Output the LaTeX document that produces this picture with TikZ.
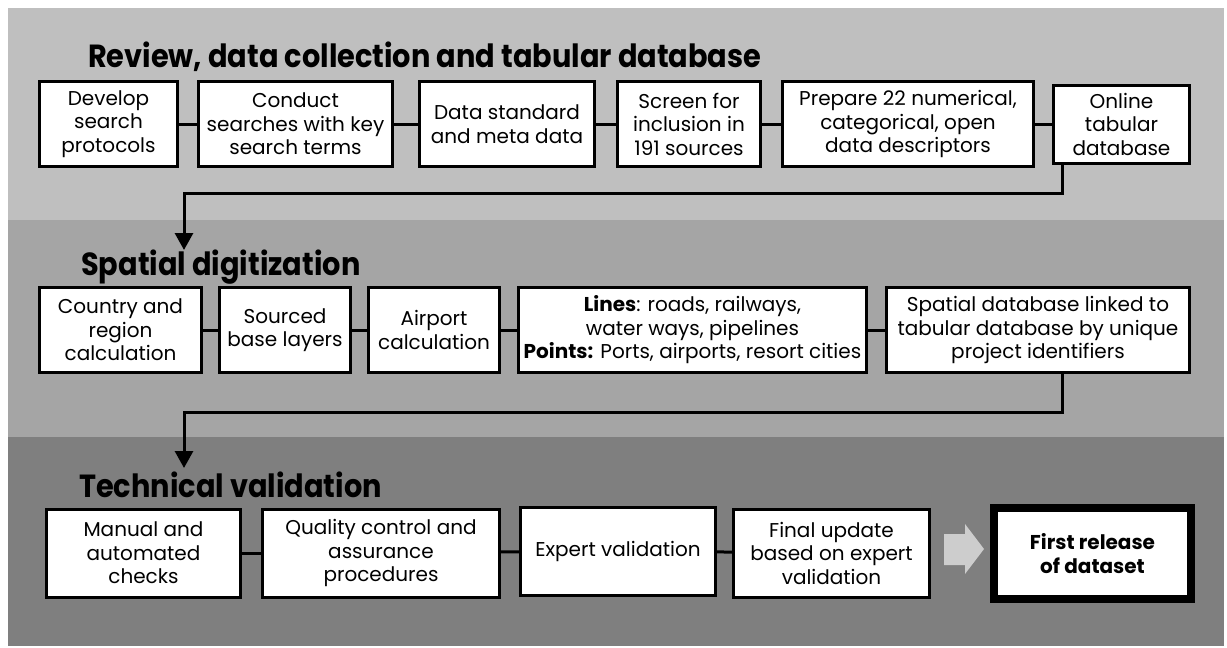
\documentclass[tikz,border=0pt]{standalone}
\usepackage{fontspec}
\setmainfont{Poppins}
\newfontfamily\phasefont[FakeStretch=0.9]{Poppins}
\usetikzlibrary{positioning,arrows.meta}
\definecolor{bandA}{HTML}{BFBFBF}
\definecolor{bandB}{HTML}{A5A5A5}
\definecolor{bandC}{HTML}{7F7F7F}
\definecolor{arrowgray}{HTML}{CDCDCD}
\tikzset{
  stepbox/.style={draw, line width=3pt, fill=white, align=center, inner sep=0pt,
    minimum height=85pt, font=\fontsize{20}{23.5}\selectfont},
  link/.style={line width=3pt},
  flow/.style={line width=3pt, -{Triangle[width=18pt,length=17pt]}},
  phase/.style={anchor=base west, inner sep=0pt, font=\phasefont\fontsize{32}{36}\selectfont\bfseries}
}

\begin{document}
\begin{tikzpicture}[x=1pt,y=-1pt]
    \useasboundingbox (0,0) rectangle (1227,648);
    % Background bands
    \fill[bandA] (8,8) rectangle (1224,220);
    \fill[bandB] (8,220) rectangle (1224,437);
    \fill[bandC] (8,437) rectangle (1224,646);

    % Review, data collection and tabular database
    \node[phase] (rev) at (88,67) {Review, data collection and tabular database};
    \node[stepbox, minimum width=138pt] (dev) at (108.5,124) {Develop\\search\\protocols};
    \node[stepbox, minimum width=194pt] (conduct) at (295.5,124) {Conduct\\searches with key\\search terms};
    \node[stepbox, minimum width=175pt] (std) at (507,124) {Data standard\\and meta data};
    \node[stepbox, minimum width=143pt] (screen) at (689,124) {Screen for\\inclusion in\\191 sources};
    \node[stepbox, minimum width=251pt] (prep) at (908,124) {Prepare 22 numerical,\\categorical, open\\data descriptors};
    \node[stepbox, minimum width=136pt, minimum height=78pt] (online) at (1121.5,124) {Online\\tabular\\database};
    \draw[link] (dev) -- (conduct);
    \draw[link] (conduct) -- (std);
    \draw[link] (std) -- (screen);
    \draw[link] (screen) -- (prep);
    \draw[link] (prep) -- (online);

    % Down to spatial digitization
    \coordinate (turnA) at (184,193);
    \coordinate (tipA) at (184,250);
    \draw[flow] (online.south -| 1062,0) |- (turnA) -- (tipA);

    % Spatial digitization
    \node[phase] (spat) at (81,275) {Spatial digitization};
    \node[stepbox, minimum width=162pt] (country) at (120.5,330) {Country and\\region\\calculation};
    \node[stepbox, minimum width=131pt] (sourced) at (285,330) {Sourced\\base layers};
    \node[stepbox, minimum width=131pt] (airport) at (434,330) {Airport\\calculation};
    \node[stepbox, minimum width=348pt] (lines) at (692.5,330) {\textbf{Lines}: roads, railways,\\water ways, pipelines\\\textbf{Points:} Ports, airports, resort cities};
    \node[stepbox, minimum width=303pt] (spatial) at (1038,330) {Spatial database linked to\\tabular database by unique\\project identifiers};
    \draw[link] (country) -- (sourced);
    \draw[link] (sourced) -- (airport);
    \draw[link] (airport) -- (lines);
    \draw[link] (lines) -- (spatial);

    % Down to technical validation
    \coordinate (turnB) at (184,412);
    \coordinate (tipB) at (184,468);
    \draw[flow] (spatial.south -| 1062,0) |- (turnB) -- (tipB);

    % Technical validation
    \node[phase] (tech) at (79,497) {Technical validation};
    \node[stepbox, minimum width=194pt, minimum height=88pt] (manual) at (143.5,553) {Manual and\\automated\\checks};
    \node[stepbox, minimum width=237pt, minimum height=88pt] (quality) at (381,553) {Quality control and\\assurance\\procedures};
    \node[stepbox, minimum width=195pt, minimum height=88pt] (expert) at (618,551) {Expert validation};
    \node[stepbox, minimum width=196pt, minimum height=88pt] (final) at (831.5,553) {Final update\\based on expert\\validation};
    \node[stepbox, line width=8pt, minimum width=197pt, minimum height=91pt, font=\fontsize{20}{23.5}\selectfont\bfseries] (release) at (1092.5,553.5) {First release\\of dataset};
    \draw[link] (manual) -- (quality);
    \draw[link] (quality) -- (expert);
    \draw[link] (expert) -- (final);

    % Gray block arrow
    \fill[arrowgray] (944,534) -- (965,534) -- (965,524) -- (984,549) -- (965,574) -- (965,565) -- (944,565) -- cycle;
\end{tikzpicture}
\end{document}
